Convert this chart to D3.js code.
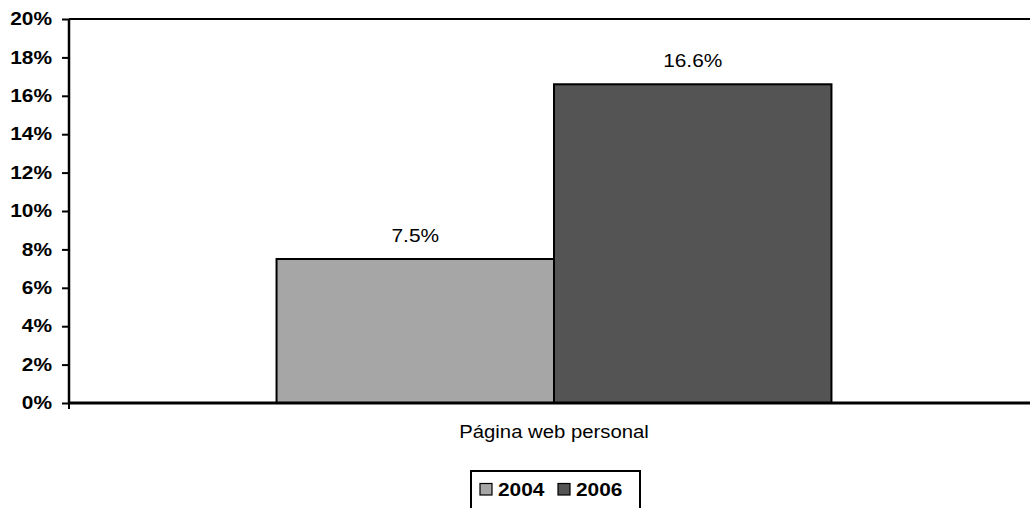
<!DOCTYPE html>
<html><head><meta charset="utf-8">
<script src="https://cdn.jsdelivr.net/npm/d3@7"></script>
<style>body{margin:0;background:#fff;overflow:hidden}svg{display:block}</style>
</head><body>
<script>
const categories = ["Página web personal"];
const seriesNames = ["2004", "2006"];
const values2004 = [7.5];
const values2006 = [16.6];
const tickValues = [0, 2, 4, 6, 8, 10, 12, 14, 16, 18, 20];
const colors = ["#A6A6A6", "#545454"];

(function () {
const W = 1030, H = 508;
const SX = 1.16;
const svg = d3.select("body").append("svg").attr("width", W).attr("height", H);
const pLeft = 69, pRight = 1039, pTop = 19, pBottom = 403;
const font = "'Liberation Sans', Arial, sans-serif";

const y = d3.scaleLinear().domain([0, 20]).range([pBottom, pTop]);
const x0 = d3.scaleBand().domain(categories).range([pLeft, pRight]).paddingInner(0).paddingOuter(0.374);
const x1 = d3.scaleBand().domain(seriesNames).range([0, x0.bandwidth()]);

function stretchedText(parent, x, yy, txt, size, weight, anchor) {
  return parent.append("text")
    .attr("transform", `translate(${x},${yy}) scale(${SX},1)`)
    .attr("text-anchor", anchor || "start")
    .attr("font-family", font).attr("font-size", size)
    .attr("font-weight", weight || "normal").attr("fill", "#000").text(txt);
}

// plot border (top)
svg.append("line").attr("x1", pLeft).attr("x2", W + 5).attr("y1", pTop).attr("y2", pTop)
  .attr("stroke", "#000").attr("stroke-width", 2);

const data = categories.map((c, i) => ({cat: c, vals: [values2004[i], values2006[i]]}));
const g = svg.append("g");
data.forEach(d => {
  d.vals.forEach((v, j) => {
    const bx = x0(d.cat) + x1(seriesNames[j]);
    g.append("rect").attr("x", bx).attr("y", y(v)).attr("width", x1.bandwidth())
      .attr("height", y(0) - y(v)).attr("fill", colors[j]).attr("stroke", "#000").attr("stroke-width", 2);
    stretchedText(g, bx + x1.bandwidth() / 2, y(v) - 17, v.toFixed(1) + "%", 18, "normal", "middle");
  });
});

// y axis
const yAxis = d3.axisLeft(y).tickValues(tickValues).tickFormat(d => d + "%").tickSize(7).tickPadding(7.7);
const ya = svg.append("g").attr("transform", `translate(${pLeft},0)`).call(yAxis);
ya.select(".domain").attr("stroke", "#000").attr("stroke-width", 2.5).attr("d", `M0,${pTop}V${pBottom}`);
ya.selectAll(".tick line").attr("stroke", "#000").attr("stroke-width", 2);
ya.selectAll(".tick text").attr("font-family", font).attr("font-size", 18).attr("font-weight", "bold")
  .attr("fill", "#000").attr("transform", `scale(${SX},1)`);

// x axis
svg.append("line").attr("x1", pLeft).attr("x2", W + 5).attr("y1", pBottom).attr("y2", pBottom)
  .attr("stroke", "#000").attr("stroke-width", 3);
svg.append("line").attr("x1", pLeft).attr("x2", pLeft).attr("y1", pBottom).attr("y2", pBottom + 6)
  .attr("stroke", "#000").attr("stroke-width", 2);
const xAxis = d3.axisBottom(x0).tickSize(0).tickPadding(22);
const xa = svg.append("g").attr("transform", `translate(0,${pBottom})`).call(xAxis);
xa.select(".domain").remove();
xa.selectAll(".tick text").attr("font-family", font).attr("font-size", 17.5).attr("fill", "#000")
  .attr("dy", null).attr("y", 35).attr("transform", `scale(${SX},1)`);

// legend
const lg = svg.append("g");
lg.append("rect").attr("x", 471).attr("y", 471).attr("width", 169).attr("height", 50)
  .attr("fill", "#fff").attr("stroke", "#000").attr("stroke-width", 2);
const legX = [480, 558];
seriesNames.forEach((s, j) => {
  lg.append("rect").attr("x", legX[j]).attr("y", 483.5).attr("width", 12).attr("height", 11.5)
    .attr("fill", colors[j]).attr("stroke", "#000").attr("stroke-width", 1.2);
  stretchedText(lg, legX[j] + 18, 496, s, 18, "bold", "start");
});
})();
</script>
</body></html>
